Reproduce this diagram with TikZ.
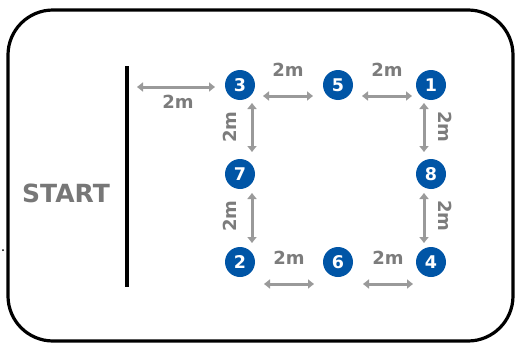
\documentclass[tikz,border=0pt]{standalone}
\usepackage{fontspec}
\setmainfont{DejaVu Sans}
\usetikzlibrary{arrows.meta}
\definecolor{mblue}{HTML}{0055A6}
\definecolor{agray}{HTML}{9A9A9A}
\definecolor{tgray}{HTML}{7C7C7C}
\definecolor{sgray}{HTML}{777777}
\begin{document}
\begin{tikzpicture}[x=1pt,y=-1pt,
  spot/.style={circle,fill=mblue,minimum size=30pt,inner sep=0pt,text=white,font=\bfseries\fontsize{17.5}{17.5}\selectfont},
  dim/.style={agray,line width=3pt,{Triangle[length=6pt,width=9pt]}-{Triangle[length=6pt,width=9pt]}},
  lbl/.style={text=tgray,font=\bfseries\fontsize{18}{18}\selectfont,inner sep=0pt}]
\useasboundingbox (0,0) rectangle (515,343);
% frame
\draw[line width=3.2pt,rounded corners=45pt] (8,10) rectangle (513,341);
\fill (3,250) circle (1pt);
% start line
\coordinate (sl1) at (127,66);
\coordinate (sl2) at (127,287);
\draw[line width=3.2pt] (sl1) -- (sl2);
\node[text=sgray,font=\bfseries\fontsize{25}{25}\selectfont,inner sep=0pt] (start) at (66,193) {START};
% spots
\node[spot] (n3) at (240,85) {3};
\node[spot] (n5) at (338,85) {5};
\node[spot] (n1) at (431,85) {1};
\node[spot] (n7) at (240,174) {7};
\node[spot] (n8) at (431,174) {8};
\node[spot] (n2) at (240,262) {2};
\node[spot] (n6) at (338,262) {6};
\node[spot] (n4) at (431,262) {4};
% arrow ends
\coordinate (a1) at (137,87);  \coordinate (b1) at (215,87);
\coordinate (a2) at (263,96);  \coordinate (b2) at (313,96);
\coordinate (a3) at (362,96);  \coordinate (b3) at (412,96);
\coordinate (a4) at (252,103); \coordinate (b4) at (252,152);
\coordinate (a5) at (252,193); \coordinate (b5) at (252,243);
\coordinate (a6) at (424,103); \coordinate (b6) at (424,152);
\coordinate (a7) at (424,193); \coordinate (b7) at (424,243);
\coordinate (a8) at (264,284); \coordinate (b8) at (314,284);
\coordinate (a9) at (363,284); \coordinate (b9) at (413,284);
\foreach \i in {1,...,9} \draw[dim] (a\i) -- (b\i);
% labels
\node[lbl] (l1) at (178,102) {2m};
\node[lbl] (l2) at (288,70) {2m};
\node[lbl] (l3) at (387,70) {2m};
\node[lbl,rotate=90] (l4) at (230,127) {2m};
\node[lbl,rotate=90] (l5) at (230,216) {2m};
\node[lbl,rotate=-90] (l6) at (445,127) {2m};
\node[lbl,rotate=-90] (l7) at (445,216) {2m};
\node[lbl] (l8) at (289,258) {2m};
\node[lbl] (l9) at (388,258) {2m};
\end{tikzpicture}
\end{document}
